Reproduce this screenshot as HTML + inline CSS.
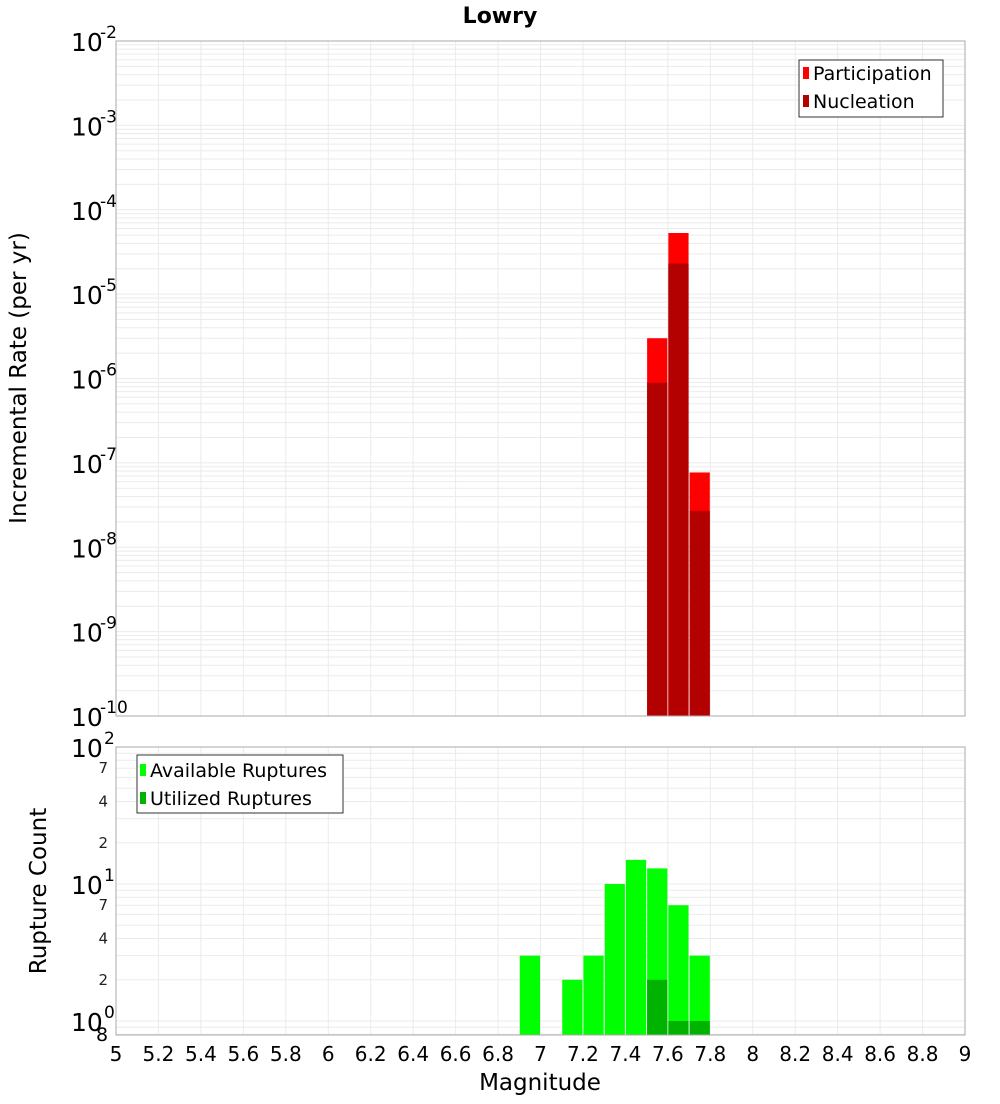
<!DOCTYPE html>
<html><head><meta charset="utf-8"><style>
body{margin:0;background:#fff;font-family:"DejaVu Sans","Liberation Sans",sans-serif}
svg text{font-family:"DejaVu Sans","Liberation Sans",sans-serif}
</style></head><body>
<svg id="c" width="1000" height="1100" xmlns="http://www.w3.org/2000/svg">
<text x="500" y="23" text-anchor="middle" font-size="22" font-weight="bold">Lowry</text>
<text transform="translate(26,378) rotate(-90)" text-anchor="middle" font-size="23">Incremental Rate (per yr)</text>
<text transform="translate(46,891) rotate(-90)" text-anchor="middle" font-size="23">Rupture Count</text>
<text x="540" y="1090" text-anchor="middle" font-size="23">Magnitude</text>
<g id="grid"></g><g id="bars"></g><g id="axes"></g>
<g>
<rect x="799" y="60" width="144" height="57" fill="#fff" stroke="#333" stroke-width="1"/>
<rect x="803" y="67" width="6" height="12" fill="#ff0000"/>
<text x="813" y="80" font-size="19">Participation</text>
<rect x="803" y="95" width="6" height="12" fill="#b30000"/>
<text x="813" y="108" font-size="19">Nucleation</text>
</g>
<g>
<rect x="137" y="755" width="206" height="58" fill="#fff" stroke="#333" stroke-width="1"/>
<rect x="140" y="764" width="6" height="12" fill="#00ff00"/>
<text x="150" y="777" font-size="19">Available Ruptures</text>
<rect x="140" y="792" width="6" height="12" fill="#00b300"/>
<text x="150" y="805" font-size="19">Utilized Ruptures</text>
</g>
</svg>
<script>
const mags=[7.55,7.65,7.75];
const participation=[3.0e-6,5.3e-5,7.7e-8];
const nucleation=[8.9e-7,2.3e-5,2.7e-8];
const countMags=[6.95,7.15,7.25,7.35,7.45,7.55,7.65,7.75];
const available=[3,2,3,10,15,13,7,3];
const utilized=[0,0,0,0,0,2,1,1];
const xTicks=[5,5.2,5.4,5.6,5.8,6,6.2,6.4,6.6,6.8,7,7.2,7.4,7.6,7.8,8,8.2,8.4,8.6,8.8,9];
const topExps=[-2,-3,-4,-5,-6,-7,-8,-9,-10];
const botExps=[2,1,0];
const botMinor=[7,4,2];

const NS="http://www.w3.org/2000/svg";
const L=116,R=965,T1=41,B1=716,T2=747,B2=1035;
const X=m=>L+(m-5)/4*(R-L);
const Y1=v=>T1+(-2-Math.log10(v))/8*(B1-T1);
const dec2=137;
const Y2=v=>T2+(2-Math.log10(v))*dec2;
function el(p,t,a,txt){const e=document.createElementNS(NS,t);for(const k in a)e.setAttribute(k,a[k]);if(txt!==undefined)e.textContent=txt;document.getElementById(p).appendChild(e);return e;}
let e=el('grid','rect',{x:L,y:T1,width:R-L,height:B1-T1,fill:'#fff'});


e=el('grid','rect',{x:L,y:T2,width:R-L,height:B2-T2,fill:'#fff'});


xTicks.forEach(m=>{
 el('grid','line',{x1:X(m),x2:X(m),y1:T1,y2:B1,stroke:'#ebebeb'});
 el('grid','line',{x1:X(m),x2:X(m),y1:T2,y2:B2,stroke:'#ebebeb'});
 const t=el('axes','text',{x:X(m),y:1061,'text-anchor':'middle','font-size':20},String(m));
 
 
});
for(let d=-10;d<-2;d++){for(let k=1;k<10;k++){const y=Y1(k*Math.pow(10,d));el('grid','line',{x1:L,x2:R,y1:y,y2:y,stroke:'#ebebeb'});}}
for(let d=-1;d<2;d++){for(let k=1;k<10;k++){const v=k*Math.pow(10,d);const y=Y2(v);if(y>B2||y<T2)continue;el('grid','line',{x1:L,x2:R,y1:y,y2:y,stroke:'#ebebeb'});}}
const bw=(R-L)/40;
mags.forEach((m,i)=>{
 let r=el('bars','rect',{x:X(m)-bw/2+0.5,y:Y1(participation[i]),width:bw-1,height:B1-Y1(participation[i]),fill:'#ff0000'});
 
 
 r=el('bars','rect',{x:X(m)-bw/2+0.5,y:Y1(nucleation[i]),width:bw-1,height:B1-Y1(nucleation[i]),fill:'#b30000'});
 
 
});
countMags.forEach((m,i)=>{
 if(available[i]>0){const r=el('bars','rect',{x:X(m)-bw/2+0.5,y:Y2(available[i]),width:bw-1,height:B2-Y2(available[i]),fill:'#00ff00'});
 
 }
 if(utilized[i]>0){const r=el('bars','rect',{x:X(m)-bw/2+0.5,y:Y2(utilized[i]),width:bw-1,height:B2-Y2(utilized[i]),fill:'#00b300'});
 
 }
});
el('axes','rect',{x:L,y:T1,width:R-L,height:B1-T1,fill:'none',stroke:'#aaa'});
el('axes','rect',{x:L,y:T2,width:R-L,height:B2-T2,fill:'none',stroke:'#aaa'});
topExps.forEach(d=>{
 const y=Y1(Math.pow(10,d));
 const t=el('axes','text',{x:71,y:y+10,'font-size':25},'10');
 
 
 el('axes','text',{x:100,y:y-3,'font-size':17},String(d));
});
botExps.forEach(d=>{
 const y=Y2(Math.pow(10,d));
 const t=el('axes','text',{x:71,y:y+10,'font-size':25},'10');
 
 
 el('axes','text',{x:104,y:y-3,'font-size':17},String(d));
});
[1,0].forEach(d=>botMinor.forEach(k=>{
 const y=Y2(k*Math.pow(10,d));
 el('axes','text',{x:108,y:y+5,'font-size':15,'text-anchor':'end',fill:'#222'},String(k));
}));
el('axes','text',{x:96,y:1041,'font-size':19},'8');
</script>
</body></html>
